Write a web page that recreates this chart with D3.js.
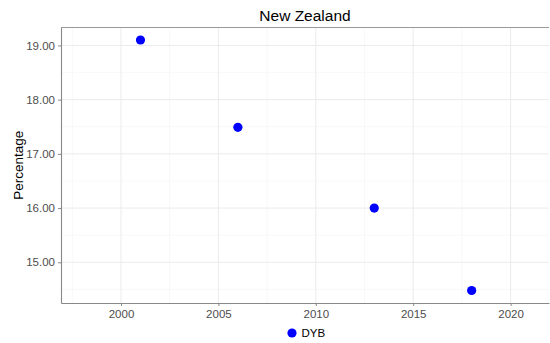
<!DOCTYPE html>
<html>
<head>
<meta charset="utf-8">
<script src="https://cdn.jsdelivr.net/npm/d3@7"></script>
<style>
  html, body { margin: 0; padding: 0; background: #fff; }
  svg { display: block; font-family: "Liberation Sans", Arial, sans-serif; }
</style>
</head>
<body>
<svg id="chart" width="550" height="343"></svg>
<script>
const years = [2001, 2006, 2013, 2018];
const values = [19.1, 17.49, 16.0, 14.48];
const seriesName = "DYB";
const xTicks = [2000, 2005, 2010, 2015, 2020];
const yTicks = [15, 16, 17, 18, 19];
const title = "New Zealand";
const yLabel = "Percentage";

const svg = d3.select("#chart");
const W = 550, H = 343;
const m = { left: 61, right: 1, top: 27.5, bottom: 40 };
const pw = W - m.left - m.right, ph = H - m.top - m.bottom;

const x = d3.scaleLinear().domain([1996.92, 2021.97]).range([m.left, m.left + pw]);
const yMin = d3.min(values), yMax = d3.max(values), pad = (yMax - yMin) * 0.05;
const y = d3.scaleLinear().domain([yMin - pad, yMax + pad]).range([m.top + ph, m.top]);

const grid = svg.append("g");
// minor grid
const xMinor = xTicks.map(t => t - 2.5).concat([xTicks[xTicks.length - 1] + 2.5]);
const yMinor = yTicks.map(t => t - 0.5).concat([yTicks[yTicks.length - 1] + 0.5]);
grid.selectAll(".xm").data(xMinor.filter(v => x(v) > m.left && x(v) < m.left + pw)).join("line")
  .attr("x1", d => x(d)).attr("x2", d => x(d)).attr("y1", m.top).attr("y2", m.top + ph)
  .attr("stroke", "#f3f3f3").attr("stroke-width", 0.6);
grid.selectAll(".ym").data(yMinor.filter(v => y(v) > m.top && y(v) < m.top + ph)).join("line")
  .attr("y1", d => y(d)).attr("y2", d => y(d)).attr("x1", m.left).attr("x2", m.left + pw)
  .attr("stroke", "#f3f3f3").attr("stroke-width", 0.6);
grid.selectAll(".xM").data(xTicks).join("line")
  .attr("x1", d => x(d)).attr("x2", d => x(d)).attr("y1", m.top).attr("y2", m.top + ph)
  .attr("stroke", "#ebebeb").attr("stroke-width", 1);
grid.selectAll(".yM").data(yTicks).join("line")
  .attr("y1", d => y(d)).attr("y2", d => y(d)).attr("x1", m.left).attr("x2", m.left + pw)
  .attr("stroke", "#ebebeb").attr("stroke-width", 1);

// top border
svg.append("line").attr("x1", m.left).attr("x2", m.left + pw).attr("y1", m.top).attr("y2", m.top)
  .attr("stroke", "#999").attr("stroke-width", 1);

const xAxis = svg.append("g").attr("transform", `translate(0,${m.top + ph})`)
  .call(d3.axisBottom(x).tickValues(xTicks).tickFormat(d3.format("d")).tickSizeInner(3).tickSizeOuter(0).tickPadding(4));
const yAxis = svg.append("g").attr("transform", `translate(${m.left},0)`)
  .call(d3.axisLeft(y).tickValues(yTicks).tickFormat(d3.format(".2f")).tickSizeInner(3).tickSizeOuter(0).tickPadding(3));
[xAxis, yAxis].forEach(a => {
  a.select(".domain").attr("stroke", "#888").attr("stroke-width", 1.1);
  a.selectAll(".tick line").attr("stroke", "#888");
  a.selectAll(".tick text").attr("fill", "#4d4d4d").style("font-size", "11.5px")
    .style("font-family", '"Liberation Sans", Arial, sans-serif');
});

svg.append("g").selectAll("circle").data(years.map((yr, i) => [yr, values[i]])).join("circle")
  .attr("cx", d => x(d[0])).attr("cy", d => y(d[1])).attr("r", 4.6).attr("fill", "#0000ff");

svg.append("text").attr("x", m.left + pw / 2).attr("y", 21).attr("text-anchor", "middle")
  .style("font-size", "15.5px").attr("fill", "#000").text(title);

svg.append("text").attr("transform", `translate(23,${m.top + ph / 2}) rotate(-90)`)
  .attr("text-anchor", "middle").style("font-size", "13.5px").attr("fill", "#000").text(yLabel);

const lg = svg.append("g").attr("transform", "translate(292,333)");
lg.append("circle").attr("cx", 0).attr("cy", 0).attr("r", 4.6).attr("fill", "#0000ff");
lg.append("text").attr("x", 9.5).attr("y", 4).style("font-size", "11.5px").attr("fill", "#000").text(seriesName);
</script>
</body>
</html>
